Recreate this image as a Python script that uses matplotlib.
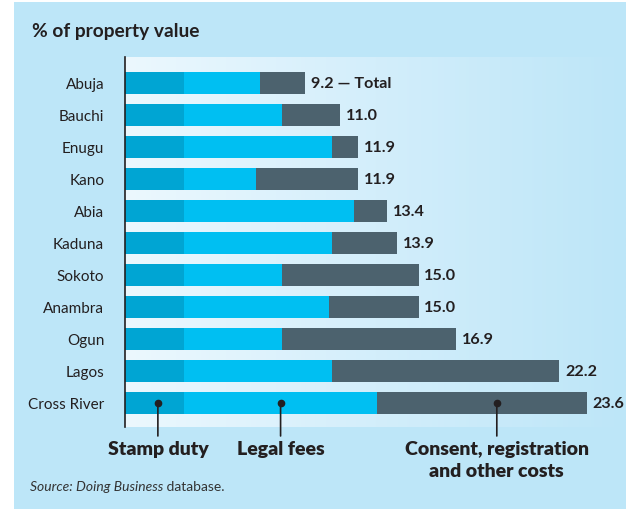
import numpy as np
import matplotlib.pyplot as plt
from matplotlib.patches import Rectangle
from matplotlib.colors import LinearSegmentedColormap

# data (% of property value)
states = ["Abuja", "Bauchi", "Enugu", "Kano", "Abia", "Kaduna",
          "Sokoto", "Anambra", "Ogun", "Lagos", "Cross River"]
stamp_duty = [3.0, 3.0, 3.0, 3.0, 3.0, 3.0, 3.0, 3.0, 3.0, 3.0, 3.0]
legal_fees = [3.9, 5.0, 7.6, 3.7, 8.7, 7.6, 5.0, 7.4, 5.0, 7.6, 9.9]
totals = [9.2, 11.0, 11.9, 11.9, 13.4, 13.9, 15.0, 15.0, 16.9, 22.2, 23.6]
segment_names = ["Stamp duty", "Legal fees", "Consent, registration\nand other costs"]

PANEL = "#bde6f8"
C_STAMP = "#00a5d3"
C_LEGAL = "#00bff2"
C_OTHER = "#4c626e"
TXT = "#231f20"

plt.rcParams['font.family'] = ['Lato', 'DejaVu Sans']

stamp = np.array(stamp_duty)
legal = np.array(legal_fees)
other = np.array(totals) - stamp - legal
y = np.arange(len(states))

fig = plt.figure(figsize=(6.26, 5.10), dpi=100, facecolor="white")
# light blue panel with small white margin on the left/top
fig.patches.append(Rectangle((14 / 626, 0), 1, 1 - 3 / 510, transform=fig.transFigure,
                             facecolor=PANEL, edgecolor="none", zorder=-5))

ax = fig.add_axes([125 / 626, 82 / 510, 1 - 125 / 626, 370 / 510])
ax.set_facecolor("none")

# gradient background of the plot area
grad = LinearSegmentedColormap.from_list("g", ["#ecf8fe", "#d3eefb", PANEL])
ax.imshow(np.linspace(0, 1, 256).reshape(1, -1), cmap=grad, aspect="auto",
          extent=[0, 1, 0, 1], transform=ax.transAxes, zorder=0)

h = 0.67
ax.barh(y, stamp, height=h, color=C_STAMP, zorder=2)
ax.barh(y, legal, left=stamp, height=h, color=C_LEGAL, zorder=2)
ax.barh(y, other, left=stamp + legal, height=h, color=C_OTHER, zorder=2)

for i, t in enumerate(totals):
    lab = f"{t:.1f}" + (" \u2014 Total" if i == 0 else "")
    ax.text(t + 0.3, i, lab, va="center", ha="left", fontsize=11.6,
            fontweight="bold", color=TXT, zorder=3)

ax.set_xlim(0, 501 / 19.57)
ax.set_ylim(len(states) - 0.25, -0.81)
ax.set_yticks(y)
ax.set_yticklabels(states, fontsize=11, color=TXT)
ax.tick_params(axis="y", length=0, pad=15)
ax.set_xticks([])
for s in ["top", "right", "bottom"]:
    ax.spines[s].set_visible(False)
ax.spines["left"].set_color(TXT)
ax.spines["left"].set_linewidth(1.2)
ax.spines["left"].set_zorder(4)

# callouts on the last bar standing in for a legend
last = len(states) - 1
starts = [0, stamp[last], stamp[last] + legal[last]]
widths = [stamp[last], legal[last], other[last]]
fracs = [0.56, 0.5, 0.57]
for s0, w, f, name in zip(starts, widths, fracs, segment_names):
    xc = s0 + w * f
    ax.plot([xc], [last], marker="o", ms=4.5, color=TXT, zorder=5, clip_on=False)
    ax.annotate("", xy=(xc, last), xytext=(xc, last + 1.03),
                arrowprops=dict(arrowstyle="-", color=TXT, lw=1.2, shrinkA=0, shrinkB=0),
                annotation_clip=False, zorder=5)
    ax.text(xc, last + 1.17, name, ha="center", va="top", fontsize=14,
            fontweight="heavy", color=TXT, linespacing=1.3)

fig.text(32 / 626, 1 - 31 / 510, "% of property value", fontsize=13.8,
         fontweight="bold", color=TXT, va="center", ha="left")
src = fig.text(30 / 626, 1 - 487 / 510, "Source: Doing Business", fontsize=10,
               style="italic", color="#333333", va="center", ha="left")
fig.canvas.draw()
bb = src.get_window_extent()
fig.text(bb.x1 / fig.bbox.width, 1 - 487 / 510, " database.", fontsize=10,
         color="#333333", va="center", ha="left")

fig.savefig("out.png", dpi=100, facecolor="white")
